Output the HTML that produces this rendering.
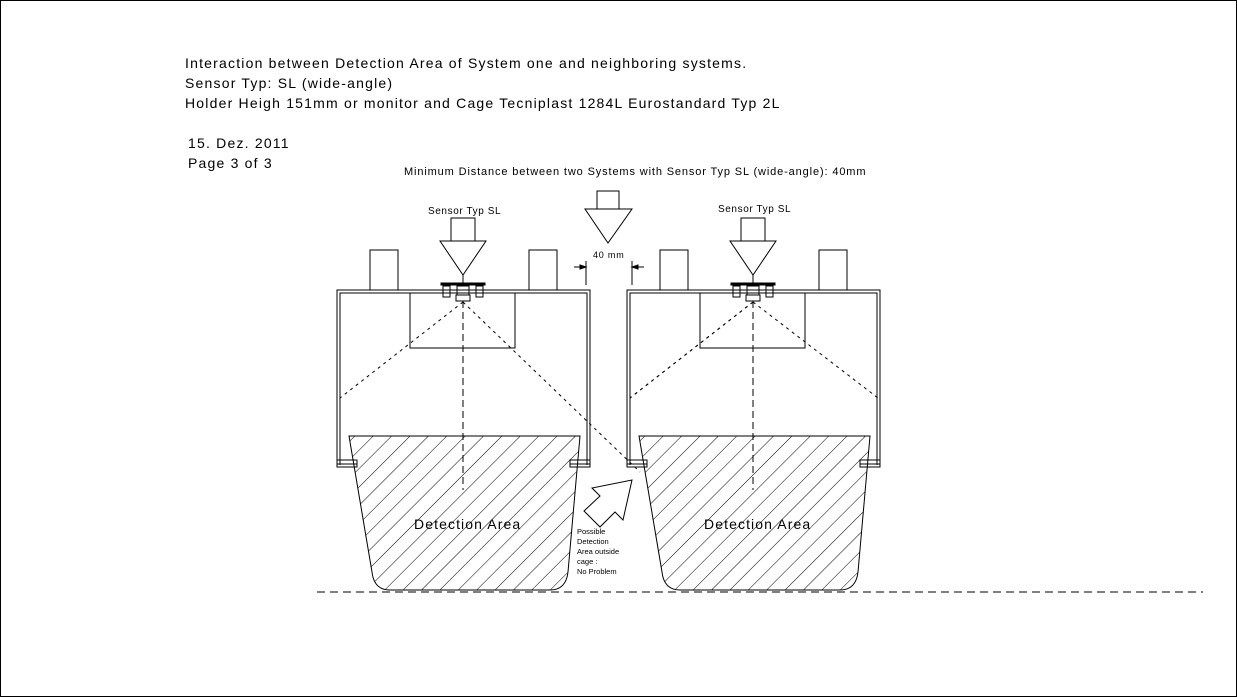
<!DOCTYPE html>
<html><head><meta charset="utf-8"><style>
html,body{margin:0;padding:0;background:#fff}
svg{display:block}
text{font-family:"Liberation Sans",sans-serif;fill:#000}
</style></head><body>
<svg width="1237" height="697" viewBox="0 0 1237 697" xmlns="http://www.w3.org/2000/svg">
<defs>
<pattern id="h" patternUnits="userSpaceOnUse" width="13" height="13" patternTransform="rotate(45)">
<line x1="0" y1="0" x2="0" y2="13" stroke="#000" stroke-width="1"/>
</pattern>
<g id="sys" fill="none" stroke="#000" stroke-width="1">
<path d="M349,436 L580,436 L568,572 Q566,590 550,590 L390,590 Q374,590 372,572 Z" fill="url(#h)"/>
<path d="M337,465 L337,290 L590,290 L590,465"/>
<path d="M340,465 L340,293 L587,293 L587,465"/>
<rect x="370" y="250" width="28" height="40" fill="#fff"/>
<rect x="529" y="250" width="28" height="40" fill="#fff"/>
<rect x="410" y="293" width="105" height="55"/>
<rect x="337" y="460" width="20" height="4"/><rect x="337" y="464" width="20" height="3"/>
<rect x="570" y="460" width="20" height="4"/><rect x="570" y="464" width="20" height="3"/>
<rect x="451" y="218" width="24" height="23"/>
<path d="M440,241 L486,241 L463,275 Z"/>
<line x1="463" y1="275" x2="463" y2="283"/>
<rect x="441" y="283" width="44" height="2" fill="#000"/>
<rect x="443" y="286" width="7" height="11"/><rect x="476" y="286" width="7" height="11"/>
<rect x="457" y="286" width="12" height="9"/><rect x="456" y="295" width="14" height="6"/>
<line x1="463" y1="301" x2="463" y2="490" stroke-dasharray="7,4"/>
<line x1="463" y1="302" x2="340" y2="398" stroke-dasharray="3,4"/>
</g>
</defs>
<rect x="0.5" y="0.5" width="1236" height="696" fill="#fff" stroke="#000"/>
<g font-size="14" letter-spacing="1.2">
<text x="185" y="68">Interaction between Detection Area of System one and neighboring systems.</text>
<text x="185" y="88">Sensor Typ: SL (wide-angle)</text>
<text x="185" y="108">Holder Heigh 151mm or monitor and Cage Tecniplast 1284L Eurostandard Typ 2L</text>
<text x="188" y="148">15. Dez. 2011</text>
<text x="188" y="168">Page 3 of 3</text>
</g>
<text x="404" y="175" font-size="11" letter-spacing="0.87">Minimum Distance between two Systems with Sensor Typ SL (wide-angle): 40mm</text>
<text x="428" y="214" font-size="10" letter-spacing="0.6">Sensor Typ SL</text>
<text x="718" y="212" font-size="10" letter-spacing="0.6">Sensor Typ SL</text>
<use href="#sys"/>
<use href="#sys" transform="translate(290,0)"/>
<g fill="none" stroke="#000" stroke-width="1">
<line x1="463" y1="302" x2="640" y2="472" stroke-dasharray="3,4"/>
<line x1="753" y1="302" x2="878" y2="398" stroke-dasharray="3,4"/>
<line x1="753" y1="302" x2="630" y2="398" stroke-dasharray="3,4"/>
<rect x="597" y="191" width="22" height="18" fill="#fff"/>
<path d="M585,209 L632,209 L608,243 Z" fill="#fff"/>
<line x1="586" y1="261" x2="586" y2="285"/><line x1="632" y1="261" x2="632" y2="285"/>
<path d="M574,267 L586,267 M586,267 L580,265 L580,269 Z" fill="#000"/>
<path d="M644,267 L632,267 M632,267 L638,265 L638,269 Z" fill="#000"/>
<polygon points="632,480 623,520 615,512 600,527 584,511 600,496 592,488" fill="#fff"/>
<line x1="317" y1="592" x2="1203" y2="592" stroke-dasharray="8,5"/>
</g>
<text x="593" y="258" font-size="9" letter-spacing="0.8">40 mm</text>
<text x="414" y="529" font-size="14" letter-spacing="1.1">Detection Area</text>
<text x="704" y="529" font-size="14" letter-spacing="1.1">Detection Area</text>
<g font-size="7.5">
<text x="577" y="534">Possible</text>
<text x="577" y="544">Detection</text>
<text x="577" y="554">Area outside</text>
<text x="577" y="564">cage :</text>
<text x="577" y="574">No Problem</text>
</g>
</svg>
</body></html>
